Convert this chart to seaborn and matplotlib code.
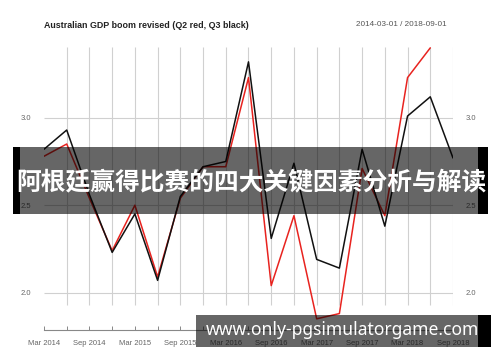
import matplotlib
matplotlib.use("Agg")
import matplotlib.pyplot as plt
from matplotlib.patches import Rectangle
import seaborn as sns
import pandas as pd
import numpy as np

quarters = ["Mar 2014", "Jun 2014", "Sep 2014", "Dec 2014", "Mar 2015", "Jun 2015",
            "Sep 2015", "Dec 2015", "Mar 2016", "Jun 2016", "Sep 2016", "Dec 2016",
            "Mar 2017", "Jun 2017", "Sep 2017", "Dec 2017", "Mar 2018", "Jun 2018",
            "Sep 2018"]
q3_black = [2.82, 2.93, 2.56, 2.23, 2.45, 2.07, 2.55, 2.72, 2.75, 3.32, 2.31, 2.74,
            2.19, 2.14, 2.82, 2.38, 3.01, 3.12, 2.77]
q2_red = [2.78, 2.85, 2.54, 2.24, 2.50, 2.09, 2.54, 2.72, 2.72, 3.23, 2.04, 2.44,
          1.85, 1.88, 2.71, 2.44, 3.23, 3.40]
y_ticks = [2.0, 2.5, 3.0]
title = "Australian GDP boom revised (Q2 red, Q3 black)"
date_range = "2014-03-01 / 2018-09-01"
banner_text = "阿根廷赢得比赛的四大关键因素分析与解读"
url_text = "www.only-pgsimulatorgame.com"

rows = []
for i, v in enumerate(q2_red):
    rows.append({"pos": i, "value": v, "series": "Q2"})
for i, v in enumerate(q3_black):
    rows.append({"pos": i, "value": v, "series": "Q3"})
df = pd.DataFrame(rows)

sns.set_theme(style="white")
plt.rcParams["font.family"] = ["Liberation Sans", "DejaVu Sans"]

W, H = 500, 362
fig = plt.figure(figsize=(W / 100, H / 100), dpi=100)
ax = fig.add_axes([44 / W, 1 - 330 / H, (453 - 44) / W, (330 - 47) / H])

ymin, ymax = 1.786, 3.405
n = len(quarters)
# grid
ax.vlines(np.arange(1, n), 1.929, ymax, color="#d0d0d0", lw=0.8, zorder=1)
ax.hlines(y_ticks, 0, n - 1, color="#d0d0d0", lw=0.8, zorder=1)

sns.lineplot(data=df, x="pos", y="value", hue="series",
             palette={"Q2": "#e8231f", "Q3": "#111111"}, hue_order=["Q2", "Q3"],
             lw=1.1, legend=False, ax=ax, zorder=3)

ax.set_xlim(0, n - 1)
ax.set_ylim(ymin, ymax)
ax.set_xlabel("")
ax.set_ylabel("")
for s in ["left", "right", "top"]:
    ax.spines[s].set_visible(False)
ax.spines["bottom"].set_color("#888888")
ax.spines["bottom"].set_linewidth(0.8)

ax.set_xticks(np.arange(n))
ax.set_xticklabels([q if q.startswith(("Mar", "Sep")) else "" for q in quarters])
ax.tick_params(axis="x", direction="in", length=3, width=0.7, color="#888888",
               labelsize=5.5, labelcolor="#666666", pad=7, bottom=True)
ax.set_yticks(y_ticks)
ax.set_yticklabels([f"{v:.1f}" for v in y_ticks])
ax.tick_params(axis="y", length=0, labelsize=5.5, labelcolor="#666666",
               labelleft=True, labelright=True, pad=9)

fig.text(44 / W, 1 - 25 / H, title, fontsize=6.4, fontweight="bold",
         color="#222222", va="center", ha="left")
fig.text(447 / W, 1 - 25 / H, date_range, fontsize=5.9, color="#555555",
         va="center", ha="right")

def rect(x0, y0, x1, y1, color, alpha):
    fig.add_artist(Rectangle((x0 / W, 1 - y1 / H), (x1 - x0) / W, (y1 - y0) / H,
                             transform=fig.transFigure, facecolor=color,
                             edgecolor="none", alpha=alpha, zorder=10))

# top banner
rect(20, 147, 478, 214, "black", 0.6)
rect(13, 147, 20, 214, "black", 1.0)
rect(478, 147, 488, 214, "black", 1.0)
fig.text(251 / W, 1 - 182 / H, banner_text, fontsize=17.8, fontweight="bold",
         color="white", ha="center", va="center", zorder=11,
         family=["Noto Sans CJK SC", "DejaVu Sans"])
# bottom banner
rect(196, 315, 478, 347, "black", 0.6)
rect(478, 315, 491, 347, "black", 1.0)
fig.text(342 / W, 1 - 330 / H, url_text, fontsize=12.6, fontweight="bold",
         color="white", ha="center", va="center", zorder=11,
         family=["Noto Sans", "DejaVu Sans"])

fig.savefig("out.png", dpi=100)
